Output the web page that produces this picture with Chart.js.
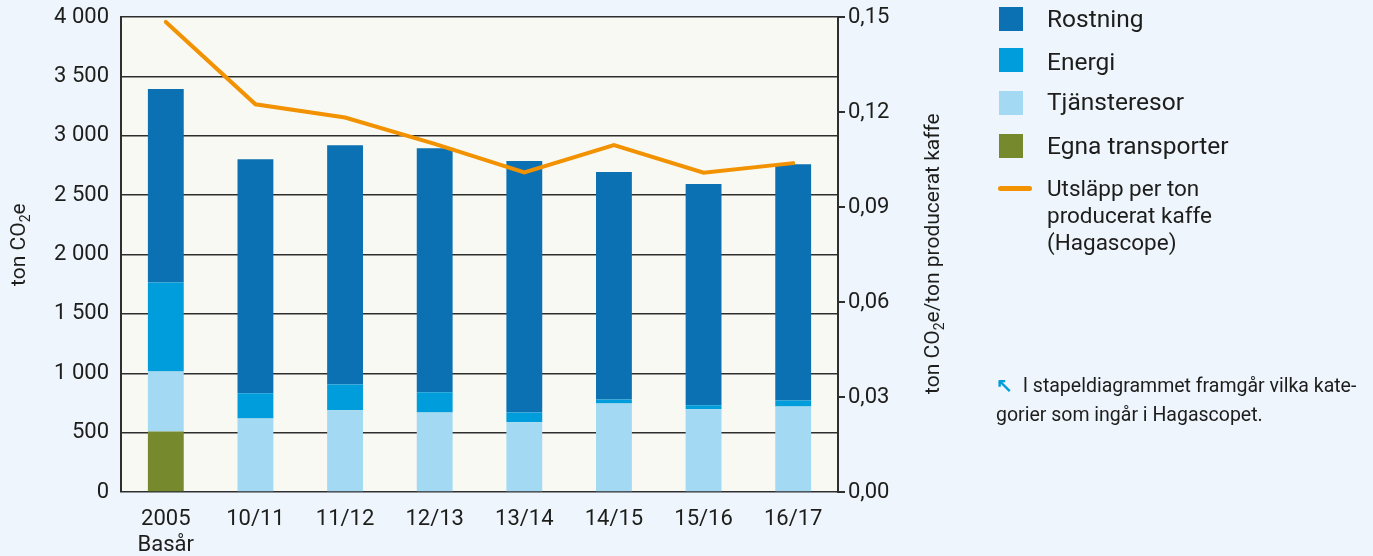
<!DOCTYPE html>
<html>
<head>
<meta charset="utf-8">
<script src="https://cdn.jsdelivr.net/npm/chart.js@4.4.1/dist/chart.umd.min.js"></script>
<style>
  html, body { margin: 0; padding: 0; background: #eef5fc; }
  body { width: 1373px; height: 556px; position: relative; overflow: hidden; font-family: Roboto, sans-serif; color: #1d1d1b; }
  #wrap { position: absolute; left: 0; top: -8px; width: 1373px; height: 564px; }
  .sw { position: absolute; left: 999px; width: 24px; height: 24px; }
  .lt { position: absolute; left: 1047px; font-size: 24.5px; line-height: 28px; white-space: nowrap; }
  .note { position: absolute; left: 996px; top: 371px; width: 380px; font-size: 19.5px; line-height: 29px; white-space: nowrap; }
</style>
</head>
<body>
<div id="wrap"><canvas id="chart"></canvas></div>
<div id="legend"></div>
<div class="note"><span style="color:#009ddc;font-weight:900;font-size:20px;">&#8598;</span>&nbsp; I stapeldiagrammet framgår vilka kate-<br>gorier som ingår i Hagascopet.</div>
<script>
// Data
const categories = [['2005', 'Basår'], '10/11', '11/12', '12/13', '13/14', '14/15', '15/16', '16/17'];
const egnaTransporter = [510, null, null, null, null, null, null, null];
const tjansteresor = [505, 620, 688, 670, 587, 745, 697, 721];
const energi = [750, 211, 217, 170, 83, 35, 33, 50];
const rostning = [1630, 1972, 2017, 2055, 2118, 1915, 1864, 1990];
const utslappPerTon = [0.1485, 0.1225, 0.1183, 0.110, 0.1010, 0.1096, 0.1009, 0.1039];

const leftTicks = [0, 500, 1000, 1500, 2000, 2500, 3000, 3500, 4000];
const rightTicks = [0, 0.03, 0.06, 0.09, 0.12, 0.15];

const colors = {
    rostning: '#0b71b2',
    energi: '#009ddc',
    tjanst: '#a3d9f2',
    egna: '#76892d',
    line: '#f39200'
};

// Legend (HTML, placed to the right of the chart)
const legendItems = [
    { label: 'Rostning', color: colors.rostning, top: 7, textTop: 5 },
    { label: 'Energi', color: colors.energi, top: 48, textTop: 48 },
    { label: 'Tjänsteresor', color: colors.tjanst, top: 91, textTop: 88 },
    { label: 'Egna transporter', color: colors.egna, top: 134, textTop: 132 }
];
const legend = document.getElementById('legend');
legendItems.forEach(item => {
    const sw = document.createElement('div');
    sw.className = 'sw';
    sw.style.top = item.top + 'px';
    sw.style.background = item.color;
    const t = document.createElement('div');
    t.className = 'lt';
    t.style.top = item.textTop + 'px';
    t.textContent = item.label;
    legend.appendChild(sw);
    legend.appendChild(t);
});
const ln = document.createElement('div');
ln.style.cssText = 'position:absolute;left:998px;top:186px;width:34px;height:5px;border-radius:3px;background:' + colors.line;
legend.appendChild(ln);
const lnText = document.createElement('div');
lnText.style.cssText = 'position:absolute;left:1047px;top:175px;font-size:22.5px;line-height:27px;';
lnText.innerHTML = 'Utsläpp per ton<br>producerat kaffe<br>(Hagascope)';
legend.appendChild(lnText);

const textColor = '#1d1d1b';
const gridColor = '#2e2e2e';
const tickFont = { family: 'Roboto', size: 22 };

// Plot area background
const plotBackground = {
    id: 'plotBackground',
    beforeDraw(chart) {
        const { ctx, chartArea } = chart;
        ctx.save();
        ctx.fillStyle = '#f8f9f3';
        ctx.fillRect(chartArea.left, chartArea.top, chartArea.right - chartArea.left, chartArea.bottom - chartArea.top);
        ctx.restore();
    }
};

// Vertical axis titles with subscript 2, both reading bottom to top
function drawVerticalTitle(ctx, x, cy, parts) {
    ctx.save();
    ctx.translate(x, cy);
    ctx.rotate(-Math.PI / 2);
    ctx.fillStyle = textColor;
    ctx.textBaseline = 'middle';
    let total = 0;
    parts.forEach(p => {
        ctx.font = (p.sub ? 14 : 21) + 'px Roboto';
        total += ctx.measureText(p.text).width;
    });
    let pos = -total / 2;
    parts.forEach(p => {
        ctx.font = (p.sub ? 14 : 21) + 'px Roboto';
        ctx.fillText(p.text, pos, p.sub ? 6 : 0);
        pos += ctx.measureText(p.text).width;
    });
    ctx.restore();
}

const axisTitles = {
    id: 'axisTitles',
    afterDraw(chart) {
        const ctx = chart.ctx;
        const area = chart.chartArea;
        const mid = (area.top + area.bottom) / 2;
        drawVerticalTitle(ctx, 20, mid - 10, [{ text: 'ton CO' }, { text: '2', sub: true }, { text: 'e' }]);
        drawVerticalTitle(ctx, area.right + 96, mid - 1, [{ text: 'ton CO' }, { text: '2', sub: true }, { text: 'e/ton producerat kaffe' }]);
    }
};

new Chart(document.getElementById('chart'), {
    type: 'bar',
    data: {
        labels: categories,
        datasets: [
            {
                type: 'line',
                label: 'Utsläpp per ton producerat kaffe (Hagascope)',
                data: utslappPerTon,
                yAxisID: 'y1',
                borderColor: colors.line,
                borderWidth: 4,
                borderCapStyle: 'round',
                pointRadius: 0,
                tension: 0,
                order: 0
            },
            { label: 'Egna transporter', data: egnaTransporter, backgroundColor: colors.egna, stack: 's', order: 1 },
            { label: 'Tjänsteresor', data: tjansteresor, backgroundColor: colors.tjanst, stack: 's', order: 1 },
            { label: 'Energi', data: energi, backgroundColor: colors.energi, stack: 's', order: 1 },
            { label: 'Rostning', data: rostning, backgroundColor: colors.rostning, stack: 's', order: 1 }
        ]
    },
    options: {
        responsive: true,
        maintainAspectRatio: false,
        animation: false,
        layout: { padding: { left: 2, right: 428, top: 8, bottom: 0 } },
        datasets: {
            bar: { categoryPercentage: 0.8, barPercentage: 0.5 }
        },
        plugins: {
            legend: { display: false },
            tooltip: { enabled: false }
        },
        scales: {
            x: {
                stacked: true,
                grid: { display: false },
                border: { display: false },
                ticks: { color: textColor, font: tickFont, padding: 6, maxRotation: 0 },
                afterFit(scale) { scale.height = 64; }
            },
            y: {
                stacked: true,
                position: 'left',
                min: 0,
                max: 4000,
                afterBuildTicks(scale) { scale.ticks = leftTicks.map(v => ({ value: v })); },
                ticks: {
                    color: textColor,
                    font: tickFont,
                    padding: 12,
                    callback: v => String(v).replace(/\B(?=(\d{3})+(?!\d))/g, ' ')
                },
                grid: { color: gridColor, lineWidth: 1.6, drawTicks: false },
                border: { color: gridColor, width: 2 },
                afterFit(scale) { scale.width = 119; }
            },
            y1: {
                position: 'right',
                min: 0,
                max: 0.15,
                afterBuildTicks(scale) { scale.ticks = rightTicks.map(v => ({ value: v })); },
                ticks: {
                    color: textColor,
                    font: tickFont,
                    padding: 3,
                    callback: v => v.toFixed(2).replace('.', ',')
                },
                grid: { drawOnChartArea: false, color: gridColor, lineWidth: 2, tickLength: 7 },
                border: { color: gridColor, width: 2 },
                afterFit(scale) { scale.width = 107; }
            }
        }
    },
    plugins: [plotBackground, axisTitles]
});
</script>
</body>
</html>
